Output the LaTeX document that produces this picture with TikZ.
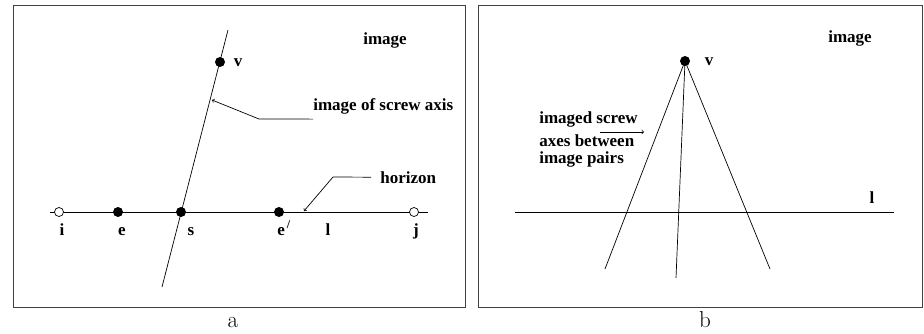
\documentclass[tikz,border=0pt]{standalone}
\usepackage{fontspec}
\newfontfamily\lblfont{Liberation Serif}
\usepackage{tikz}
\begin{document}
\begin{tikzpicture}[x=1pt,y=-1pt,line width=0.7pt,
  lbl/.style={font=\lblfont\bfseries\fontsize{17}{20}\selectfont,inner sep=0pt,anchor=base},
  fdot/.style={circle,fill,inner sep=0pt,minimum size=10pt},
  odot/.style={circle,draw,fill=white,inner sep=0pt,minimum size=9pt},
  capt/.style={font=\fontsize{23}{26}\selectfont,inner sep=0pt,anchor=base},
  frame/.style={draw=black!75,line width=1pt}]
\useasboundingbox (0,0) rectangle (924,333);
\draw[frame] (13,5) rectangle (465,307);
\draw[frame] (478,5) rectangle (922,307);
\coordinate (hl) at (50,212);
\coordinate (hr) at (428,212);
\coordinate (axtop) at (228,30);
\coordinate (axbot) at (162,287);
\coordinate (axtip) at (212,100);
\coordinate (hztip) at (304,211);
\draw (hl) -- (hr);
\draw (axtop) -- (axbot);
\node[odot] (i) at (59,212) {};
\node[fdot] (e) at (118,212) {};
\node[fdot] (s) at (181,212) {};
\node[fdot] (e2) at (279,212) {};
\node[odot] (j) at (414,212) {};
\node[fdot] (v) at (220,62) {};
\node[lbl] at (62,235) {i};
\node[lbl] at (122,235) {e};
\node[lbl] at (191,235) {s};
\node[lbl,anchor=base west] at (277,235) {e\textsuperscript{\,/}};
\node[lbl] at (328,235) {l};
\node[lbl] at (416,235) {j};
\node[lbl] at (238,66) {v};
\node[lbl] at (385,44) {image};
\node[lbl,anchor=base west] (axlab) at (313,110) {image of screw axis};
\node[lbl,anchor=base west] (hzlab) at (380,183) {horizon};
\draw[->] ([yshift=-5pt]axlab.south west) -- (259,119) -- (axtip);
\draw[->] ([xshift=-9pt]hzlab.west) -- (333,177) -- (hztip);
\node[capt] at (233,327) {a};
\coordinate (b1) at (605,269);
\coordinate (b2) at (676,278);
\coordinate (b3) at (770,269);
\node[fdot] (vb) at (685,61) {};
\draw (vb.center) -- (b1);
\draw (vb.center) -- (b2);
\draw (vb.center) -- (b3);
\draw (515,212) -- (894,212);
\node[lbl] at (709,65) {v};
\node[lbl] at (850,42) {image};
\node[lbl] at (872,203) {l};
\node[lbl,anchor=base west] (t1) at (539,123) {imaged screw};
\node[lbl,anchor=base west] (t2) at (539,146) {axes between};
\node[lbl,anchor=base west] (t3) at (539,163) {image pairs};
\draw[->] (600,132) -- (644,132);
\node[capt] at (705,327) {b};
\end{tikzpicture}
\end{document}
